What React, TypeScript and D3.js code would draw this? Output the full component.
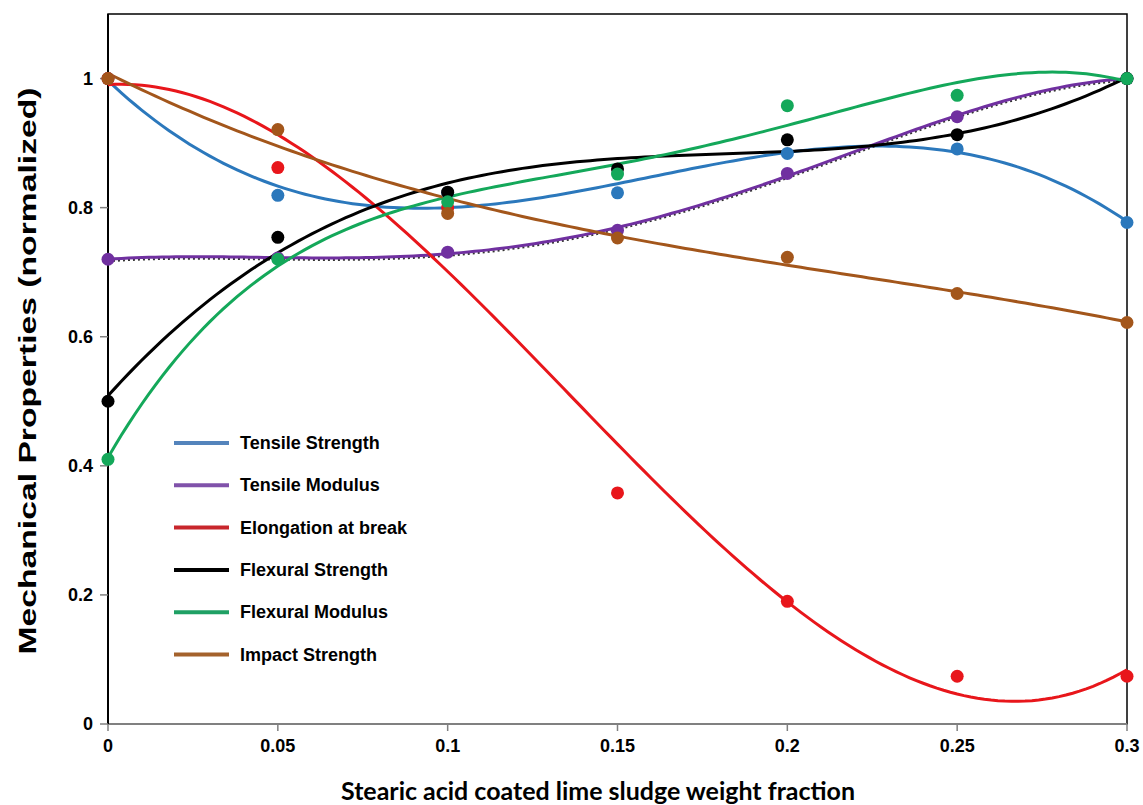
import React, { useEffect, useRef } from 'react';
import * as d3 from 'd3';

// weight fraction of stearic acid coated lime sludge
const fractions = [0, 0.05, 0.1, 0.15, 0.2, 0.25, 0.3];

const seriesNames = [
  'Tensile Strength',
  'Tensile Modulus',
  'Elongation at break',
  'Flexural Strength',
  'Flexural Modulus',
  'Impact Strength',
];

// normalized values
const tensileStrength = [1.0, 0.819, 0.823, 0.823, 0.884, 0.891, 0.777];
const tensileModulus = [0.72, 0.722, 0.731, 0.765, 0.853, 0.941, 1.0];
const elongation = [1.0, 0.862, 0.8, 0.358, 0.19, 0.074, 0.074];
const flexuralStrength = [0.5, 0.754, 0.824, 0.86, 0.905, 0.913, 1.0];
const flexuralModulus = [0.41, 0.72, 0.809, 0.852, 0.958, 0.974, 1.0];
const impactStrength = [1.0, 0.921, 0.791, 0.753, 0.723, 0.667, 0.622];

// polynomial order of each trendline
const trendOrder = [3, 4, 3, 3, 4, 3];

const xTicks = [0, 0.05, 0.1, 0.15, 0.2, 0.25, 0.3];
const yTicks = [0, 0.2, 0.4, 0.6, 0.8, 1];

const lineColors = ['#2B78BC', '#7030A0', '#E8161B', '#000000', '#14A85A', '#A3561B'];
const legendColors = ['#5484BC', '#8052AA', '#C8262C', '#000000', '#1FA064', '#A4622C'];

const allSeries = [tensileStrength, tensileModulus, elongation, flexuralStrength, flexuralModulus, impactStrength];

// least squares polynomial trendline (x scaled to 0..1 for stability)
function polyfit(xs: number[], ys: number[], order: number, xMax: number) {
  const n = order + 1;
  const A = Array.from({ length: n }, () => new Array(n + 1).fill(0));
  xs.forEach((x, k) => {
    const t = x / xMax;
    for (let i = 0; i < n; i++) {
      for (let j = 0; j < n; j++) A[i][j] += Math.pow(t, i + j);
      A[i][n] += Math.pow(t, i) * ys[k];
    }
  });
  for (let c = 0; c < n; c++) {
    let p = c;
    for (let r = c + 1; r < n; r++) if (Math.abs(A[r][c]) > Math.abs(A[p][c])) p = r;
    const tmp = A[c]; A[c] = A[p]; A[p] = tmp;
    for (let r = 0; r < n; r++) {
      if (r === c) continue;
      const f = A[r][c] / A[c][c];
      for (let k = c; k <= n; k++) A[r][k] -= f * A[c][k];
    }
  }
  const coef = A.map((row, i) => row[n] / row[i]);
  return (x: number) => coef.reduce((s, a, i) => s + a * Math.pow(x / xMax, i), 0);
}

export default function App() {
  const ref = useRef<SVGSVGElement>(null);

  useEffect(() => {
    const width = 1143;
    const height = 805;
    const left = 108, right = 1127, top = 14, bottom = 724;
    const arial = "'Liberation Sans', Arial, sans-serif";

    const svg = d3.select(ref.current);
    svg.selectAll('*').remove();
    svg.attr('width', width).attr('height', height);

    svg.append('rect').attr('width', width).attr('height', height).attr('fill', '#fff');

    const x = d3.scaleLinear().domain([0, 0.3]).range([left, right]);
    const y = d3.scaleLinear().domain([0, 1.1]).range([bottom, top]);

    // frame
    svg.append('rect')
      .attr('x', left).attr('y', top)
      .attr('width', right - left).attr('height', bottom - top)
      .attr('fill', 'none').attr('stroke', '#000').attr('stroke-width', 1.5);
    svg.append('line')
      .attr('x1', left).attr('x2', right).attr('y1', bottom).attr('y2', bottom)
      .attr('stroke', '#808080').attr('stroke-width', 2);
    svg.append('line')
      .attr('x1', left).attr('x2', left).attr('y1', top).attr('y2', bottom)
      .attr('stroke', '#000').attr('stroke-width', 2);

    // y ticks
    svg.selectAll('.ytick').data(yTicks).enter().append('line')
      .attr('x1', left - 8).attr('x2', left)
      .attr('y1', d => y(d)).attr('y2', d => y(d))
      .attr('stroke', '#808080').attr('stroke-width', 1.5);
    svg.selectAll('.ylab').data(yTicks).enter().append('text')
      .attr('x', left - 15).attr('y', d => y(d) + 6)
      .attr('text-anchor', 'end')
      .attr('font-family', arial).attr('font-weight', 'bold').attr('font-size', 18)
      .text(d => String(d));

    // x ticks
    svg.selectAll('.xtick').data(xTicks).enter().append('line')
      .attr('x1', d => x(d)).attr('x2', d => x(d))
      .attr('y1', bottom).attr('y2', bottom + 7)
      .attr('stroke', '#808080').attr('stroke-width', 1.5);
    svg.selectAll('.xlab').data(xTicks).enter().append('text')
      .attr('x', d => x(d)).attr('y', bottom + 28)
      .attr('text-anchor', 'middle')
      .attr('font-family', arial).attr('font-weight', 'bold').attr('font-size', 18)
      .text(d => String(d));

    // axis titles
    svg.append('text')
      .attr('x', 598).attr('y', 800)
      .attr('text-anchor', 'middle')
      .attr('font-family', 'Lato, sans-serif').attr('font-weight', 'bold').attr('font-size', 24)
      .attr('textLength', 514).attr('lengthAdjust', 'spacingAndGlyphs')
      .text('Stearic acid coated lime sludge weight fraction');
    svg.append('text')
      .attr('transform', 'translate(36,371) rotate(-90)')
      .attr('text-anchor', 'middle')
      .attr('font-family', arial).attr('font-weight', 'bold').attr('font-size', 23)
      .attr('textLength', 567).attr('lengthAdjust', 'spacingAndGlyphs')
      .text('Mechanical Properties (normalized)');

    // trendlines
    const samples = d3.range(0, 0.3 + 1e-9, 0.002);
    const line = d3.line<number[]>().x(d => x(d[0])).y(d => y(d[1])).curve(d3.curveLinear);

    allSeries.forEach((vals, i) => {
      const f = polyfit(fractions, vals, trendOrder[i], 0.3);
      const pts = samples.map(s => [s, f(s)]);
      if (i === 1) {
        // dotted trendline peeking under the modulus line
        svg.append('path')
          .attr('d', line(pts))
          .attr('transform', 'translate(0,2)')
          .attr('fill', 'none').attr('stroke', '#333')
          .attr('stroke-width', 2).attr('stroke-dasharray', '2,3');
      }
      svg.append('path')
        .attr('d', line(pts))
        .attr('fill', 'none')
        .attr('stroke', lineColors[i])
        .attr('stroke-width', 3);
    });

    // markers
    allSeries.forEach((vals, i) => {
      svg.append('g').selectAll('circle').data(vals).enter().append('circle')
        .attr('cx', (d, k) => x(fractions[k]))
        .attr('cy', d => y(d))
        .attr('r', 6.5)
        .attr('fill', lineColors[i]);
    });

    // legend
    const lg = svg.append('g');
    seriesNames.forEach((name, i) => {
      const ly = 443 + i * 42.3;
      lg.append('line')
        .attr('x1', 174).attr('x2', 229).attr('y1', ly).attr('y2', ly)
        .attr('stroke', legendColors[i]).attr('stroke-width', 4);
      lg.append('text')
        .attr('x', 240).attr('y', ly + 6)
        .attr('font-family', arial).attr('font-weight', 'bold').attr('font-size', 18)
        .text(name);
    });
  }, []);

  return (
    <div style={{ position: 'absolute', left: 0, top: 0 }}>
      <svg ref={ref} style={{ display: 'block' }} />
    </div>
  );
}
